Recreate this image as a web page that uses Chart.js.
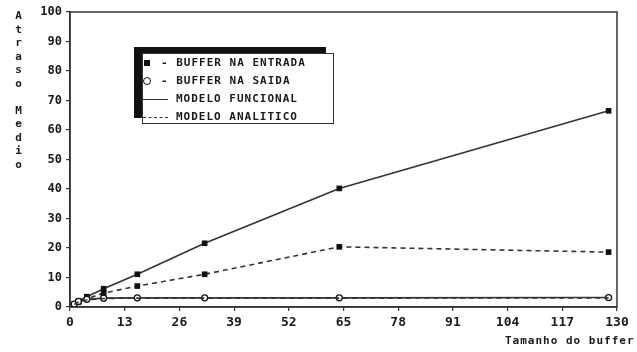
<!DOCTYPE html>
<html>
<head>
<meta charset="utf-8">
<script src="https://cdn.jsdelivr.net/npm/chart.js@4/dist/chart.umd.min.js"></script>
<style>
  html, body { margin:0; padding:0; background:#fff; }
  #wrap { position:relative; width:637px; height:352px; overflow:hidden; background:#fff; }
  canvas { position:absolute; left:0; top:0; }
  .mono { font-family:'DejaVu Sans Mono', 'Liberation Mono', monospace; font-weight:bold; color:#1a1a1a; }
  #ytitle { position:absolute; left:12px; top:9px; font-size:11px; writing-mode:vertical-lr; text-orientation:upright; letter-spacing:0.5px; }
  #xtitle { position:absolute; left:505px; top:334px; font-size:11px; letter-spacing:1px; white-space:pre; }
  #legend { position:absolute; left:142px; top:53px; width:190px; height:69px; border:1.5px solid #333; background:#fff; box-shadow:-8px -6px 0 #111; }
  #legend .t { position:absolute; font-size:11px; letter-spacing:1px; white-space:pre; line-height:12px; }
  #legend .sq { position:absolute; width:6px; height:6px; background:#111; }
  #legend .ci { position:absolute; width:6px; height:6px; border:1.6px solid #111; border-radius:50%; background:#fff; }
  #legend .ln { position:absolute; width:25px; height:0; border-top:1.5px solid #333; }
  #legend .ld { position:absolute; width:25px; height:0; border-top:1.5px dashed #333; }
</style>
</head>
<body>
<div id="wrap">
  <canvas id="c" width="637" height="352"></canvas>
  <div id="ytitle" class="mono">Atraso Medio</div>
  <div id="xtitle" class="mono">Tamanho do buffer</div>
  <div id="legend" class="mono">
    <div class="sq" style="left:1px; top:6px;"></div>
    <div class="t" style="left:18px; top:3px;">- BUFFER NA ENTRADA</div>
    <div class="ci" style="left:0px; top:23px;"></div>
    <div class="t" style="left:18px; top:21px;">- BUFFER NA SAIDA</div>
    <div class="ln" style="left:0px; top:45px;"></div>
    <div class="t" style="left:33px; top:39px;">MODELO FUNCIONAL</div>
    <div class="ld" style="left:0px; top:63px;"></div>
    <div class="t" style="left:33px; top:57px;">MODELO ANALITICO</div>
  </div>
</div>
<script>
// ---- data ----
const bufferSizes      = [1, 2, 4, 8, 16, 32, 64, 128];
const entradaFuncional = [1, 2, 3.5, 6.2, 11.1, 21.6, 40.2, 66.5];
const entradaAnalitico = [0.8, 1.6, 2.8, 4.7, 7.1, 11.1, 20.4, 18.6];
const saidaFuncional   = [1, 1.9, 2.6, 3.0, 3.1, 3.1, 3.1, 3.2];
const saidaAnalitico   = [0.9, 1.7, 2.4, 2.9, 3.0, 3.0, 3.0, 3.1];
const xTicks = [0, 13, 26, 39, 52, 65, 78, 91, 104, 117, 130];
const yTicks = [0, 10, 20, 30, 40, 50, 60, 70, 80, 90, 100];

const pts = (ys) => bufferSizes.map((x, i) => ({ x, y: ys[i] }));
const LINE = '#333';
const FONT = "'DejaVu Sans Mono', 'Liberation Mono', monospace";

const frame = {
  id: 'frame',
  beforeDatasetsDraw(chart) {
    const { ctx, chartArea: a } = chart;
    ctx.save();
    ctx.strokeStyle = '#333';
    ctx.lineWidth = 1.5;
    ctx.strokeRect(a.left, a.top, a.right - a.left, a.bottom - a.top);
    ctx.restore();
  }
};

new Chart(document.getElementById('c'), {
  type: 'line',
  data: {
    datasets: [
      { label: 'Saida analitico', data: pts(saidaAnalitico), borderColor: LINE, borderWidth: 1.6, borderDash: [5, 4],
        pointRadius: 0 },
      { label: 'Saida funcional', data: pts(saidaFuncional), borderColor: LINE, borderWidth: 1.6,
        pointStyle: 'circle', pointRadius: 3, pointBackgroundColor: '#fff', pointBorderColor: '#111', pointBorderWidth: 1.3 },
      { label: 'Entrada analitico', data: pts(entradaAnalitico), borderColor: LINE, borderWidth: 1.6, borderDash: [5, 4],
        pointStyle: 'rect', pointRadius: 4, pointBackgroundColor: '#111', pointBorderColor: '#111', pointBorderWidth: 0 },
      { label: 'Entrada funcional', data: pts(entradaFuncional), borderColor: LINE, borderWidth: 1.6,
        pointStyle: 'rect', pointRadius: 4, pointBackgroundColor: '#111', pointBorderColor: '#111', pointBorderWidth: 0 }
    ]
  },
  options: {
    responsive: false,
    animation: false,
    devicePixelRatio: 1,
    layout: { padding: { left: 0, right: 20, top: 12, bottom: 0 } },
    plugins: { legend: { display: false }, tooltip: { enabled: false } },
    scales: {
      x: {
        type: 'linear', min: 0, max: 130,
        afterBuildTicks: (s) => { s.ticks = xTicks.map(v => ({ value: v })); },
        afterFit: (s) => { s.height = 45; },
        border: { display: true, color: '#333', width: 1.5 },
        grid: { drawOnChartArea: false, drawTicks: true, tickLength: 4, color: '#333', lineWidth: 1.2 },
        ticks: { color: '#1a1a1a', padding: 4, maxRotation: 0, autoSkip: false,
                 font: { family: FONT, size: 13, weight: 'bold' } }
      },
      y: {
        type: 'linear', min: 0, max: 100,
        afterBuildTicks: (s) => { s.ticks = yTicks.map(v => ({ value: v })); },
        afterFit: (s) => { s.width = 70; },
        border: { display: true, color: '#333', width: 1.5 },
        grid: { drawOnChartArea: false, drawTicks: true, tickLength: 4, color: '#333', lineWidth: 1.2 },
        ticks: { color: '#1a1a1a', padding: 4, autoSkip: false,
                 font: { family: FONT, size: 12, weight: 'bold' } }
      }
    }
  },
  plugins: [frame]
});
</script>
</body>
</html>
